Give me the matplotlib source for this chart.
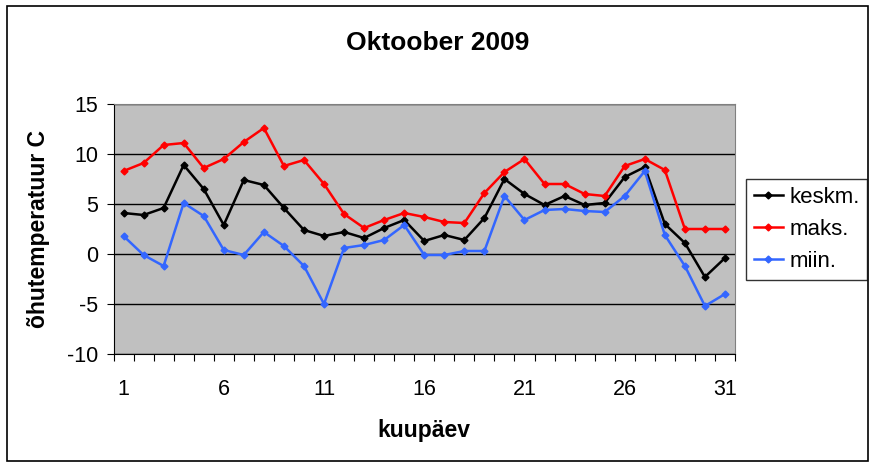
import matplotlib
matplotlib.use("Agg")
import matplotlib.pyplot as plt
from matplotlib.patches import Rectangle

plt.rcParams['font.family'] = ['Liberation Sans', 'DejaVu Sans']
plt.rcParams['axes.unicode_minus'] = False

days = list(range(1, 32))
keskm = [4.1, 3.9, 4.6, 8.9, 6.5, 2.9, 7.4, 6.9, 4.6, 2.4, 1.8, 2.2, 1.6, 2.6, 3.4,
         1.3, 1.9, 1.4, 3.6, 7.5, 6.0, 4.9, 5.8, 4.9, 5.1, 7.7, 8.7, 3.0, 1.1, -2.3, -0.4]
maks = [8.3, 9.1, 10.9, 11.1, 8.6, 9.5, 11.2, 12.6, 8.8, 9.4, 7.0, 4.0, 2.6, 3.4, 4.1,
        3.7, 3.2, 3.1, 6.1, 8.2, 9.5, 7.0, 7.0, 6.0, 5.8, 8.8, 9.5, 8.4, 2.5, 2.5, 2.5]
miin = [1.8, -0.1, -1.2, 5.1, 3.8, 0.4, -0.1, 2.2, 0.8, -1.2, -5.0, 0.6, 0.9, 1.4, 2.9,
        -0.1, -0.1, 0.3, 0.3, 5.8, 3.4, 4.4, 4.5, 4.3, 4.2, 5.8, 8.3, 1.9, -1.2, -5.2, -4.0]
series = [("keskm.", keskm, "black"), ("maks.", maks, "#ff0000"), ("miin.", miin, "#3366ff")]
x_labels = [1, 6, 11, 16, 21, 26, 31]

W, H = 876, 467
fig = plt.figure(figsize=(W / 100, H / 100), dpi=100)
fig.patches.append(Rectangle((7 / W, 6 / H), 861 / W, 455 / H, transform=fig.transFigure,
                             fill=False, edgecolor='black', linewidth=1.2))

ax = fig.add_axes([113.5 / W, 1 - 354 / H, 621.5 / W, 250 / H])
ax.set_facecolor('#c0c0c0')
for name, vals, col in series:
    ax.plot(days, vals, color=col, linewidth=1.8, marker='D', markersize=3.5,
            label=name, zorder=3)

ax.set_xlim(0.5, 31.5)
ax.set_ylim(-10, 15)
ax.set_yticks(range(-10, 16, 5))
ax.yaxis.grid(True, color='black', linewidth=1)
ax.set_axisbelow(True)
ax.set_xticks([d + 0.5 for d in range(0, 32)])
ax.set_xticklabels([])
ax.set_xticks(x_labels, minor=True)
ax.set_xticklabels([str(v) for v in x_labels], minor=True)
ax.tick_params(axis='x', which='major', direction='out', length=5, color='black')
ax.tick_params(axis='x', which='minor', length=0, pad=18, labelsize=15.5)
ax.tick_params(axis='y', direction='out', length=5, labelsize=15.5, pad=6)
for side in ['top', 'right']:
    ax.spines[side].set_color('#808080')
for side in ['left', 'bottom']:
    ax.spines[side].set_color('black')

ax.set_xlabel('kuupäev', fontsize=16.5, fontweight='bold', labelpad=14)
ax.set_ylabel('õhutemperatuur C', fontsize=16.5, fontweight='bold', labelpad=12)
fig.text(438 / W, 1 - 43 / H, 'Oktoober 2009', ha='center', va='center',
         fontsize=19, fontweight='bold')

leg = fig.legend(loc='upper left', bbox_to_anchor=(746 / W, 1 - 179 / H), fontsize=16,
                 frameon=True, fancybox=False, edgecolor='black', handlelength=1.3,
                 handletextpad=0.3, borderpad=0.35, labelspacing=0.5, borderaxespad=0)
leg.get_frame().set_linewidth(1)

fig.savefig('out.png', dpi=100)
